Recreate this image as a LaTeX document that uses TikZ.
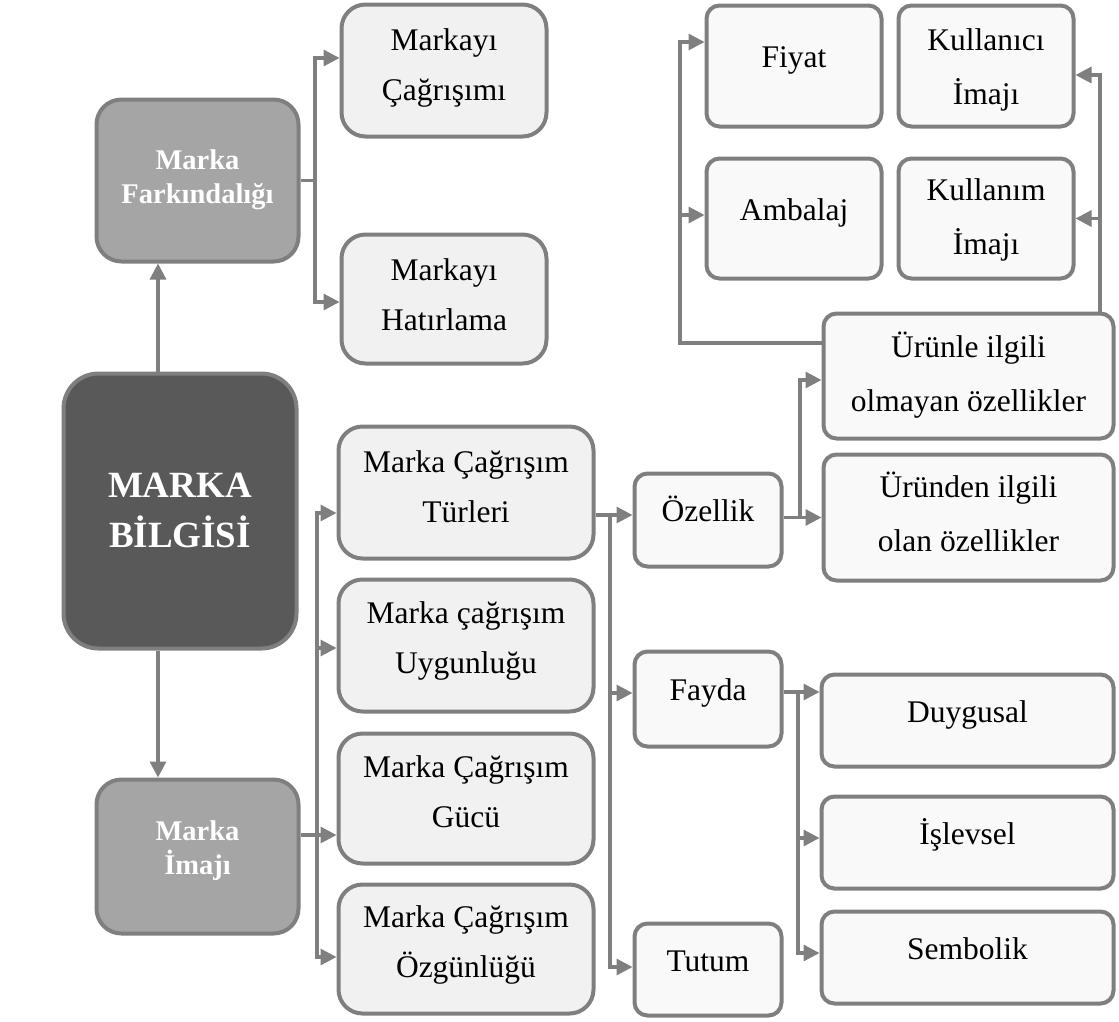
\documentclass[tikz,border=0pt]{standalone}
\usepackage{fontspec}
\setmainfont{Liberation Serif}
\usetikzlibrary{arrows.meta}
\definecolor{bordc}{HTML}{7F7F7F}
\definecolor{lineC}{HTML}{7F7F7F}
\definecolor{lightA}{HTML}{F9F9F9}
\definecolor{lightB}{HTML}{F1F1F1}
\definecolor{midg}{HTML}{A5A5A5}
\definecolor{darkg}{HTML}{595959}
\newcommand\twoline[2]{\vtop{\halign{\hfil##\hfil\cr #1\cr #2\cr}}}
\begin{document}
\begin{tikzpicture}[x=1pt,y=-1pt,
  base/.style={draw=bordc, line width=4pt, inner sep=0pt},
  sbox/.style={base, rounded corners=13pt, fill=lightA, font=\fontsize{31.5}{54}\selectfont},
  mbox/.style={base, rounded corners=24pt, fill=lightB, font=\fontsize{31.5}{50}\selectfont},
  gbox/.style={base, rounded corners=25pt, fill=midg, text=white, font=\bfseries\fontsize{28.5}{34}\selectfont},
  dbox/.style={base, rounded corners=35pt, fill=darkg, text=white, font=\bfseries\fontsize{37}{50}\selectfont},
  one/.style={text height=21pt, text depth=18pt},
  ml/.style={text height=10pt, text depth=#1},
  arr/.style={draw=lineC, line width=3.2pt, -{Triangle[length=16pt,width=16pt]}},
  arrtwo/.style={draw=lineC, line width=3.2pt, {Triangle[length=16pt,width=16pt]}-{Triangle[length=16pt,width=16pt]}}
]
\useasboundingbox (0,0) rectangle (1119,1021);

% left column
\node[gbox, ml=33pt, minimum width=202pt, minimum height=162pt] (farkind) at (197.5,180.5) {\twoline{Marka}{Farkındalığı}};
\node[dbox, ml=38pt, minimum width=233pt, minimum height=275pt] (bilgi) at (180,511) {\twoline{MARKA}{BİLGİSİ}};
\node[gbox, ml=43pt, minimum width=202pt, minimum height=154pt] (imaj) at (197.5,856.5) {\twoline{Marka}{İmajı}};

% second column
\node[mbox, ml=51pt, minimum width=205pt, minimum height=132pt] (cagr) at (444,70.5) {\twoline{Markayı}{Çağrışımı}};
\node[mbox, ml=48pt, minimum width=205pt, minimum height=129pt] (hatir) at (444,299) {\twoline{Markayı}{Hatırlama}};
\node[mbox, ml=51pt, minimum width=255pt, minimum height=132pt] (turler) at (466,492.5) {\twoline{Marka Çağrışım}{Türleri}};
\node[mbox, ml=55pt, minimum width=255pt, minimum height=132pt] (uygun) at (466,645.5) {\twoline{Marka çağrışım}{Uygunluğu}};
\node[mbox, ml=53pt, minimum width=255pt, minimum height=130pt] (guc) at (466,798.5) {\twoline{Marka Çağrışım}{Gücü}};
\node[mbox, ml=54pt, minimum width=255pt, minimum height=129pt] (ozgun) at (466,949) {\twoline{Marka Çağrışım}{Özgünlüğü}};

% third column
\node[sbox, one, minimum width=147pt, minimum height=93pt] (ozellik) at (708,520) {Özellik};
\node[sbox, one, minimum width=147pt, minimum height=95pt] (fayda) at (708,699) {Fayda};
\node[sbox, one, minimum width=147pt, minimum height=92pt] (tutum) at (708,969.5) {Tutum};

% top right
\node[sbox, one, minimum width=175pt, minimum height=121pt] (fiyat) at (794,66) {Fiyat};
\node[sbox, one, minimum width=175pt, minimum height=120pt] (ambalaj) at (794,218.5) {Ambalaj};
\node[sbox, ml=42pt, minimum width=175pt, minimum height=121pt] (kullanici) at (986,66) {\twoline{Kullanıcı}{İmajı}};
\node[sbox, ml=47pt, minimum width=175pt, minimum height=120pt] (kullanim) at (986,218.5) {\twoline{Kullanım}{İmajı}};
\node[sbox, ml=48pt, minimum width=290pt, minimum height=125pt] (urunle) at (968.5,376) {\twoline{Ürünle ilgili}{olmayan özellikler}};
\node[sbox, ml=51pt, minimum width=290pt, minimum height=126pt] (urunden) at (968.5,517.5) {\twoline{Üründen ilgili}{olan özellikler}};

% bottom right
\node[sbox, one, minimum width=292pt, minimum height=92pt] (duygusal) at (967.5,720.5) {Duygusal};
\node[sbox, one, minimum width=292pt, minimum height=92pt] (islevsel) at (967.5,842.5) {İşlevsel};
\node[sbox, one, minimum width=292pt, minimum height=92pt] (sembolik) at (967.5,957.5) {Sembolik};

% spine coordinates
\coordinate (sp1) at (315,0);
\coordinate (sp2) at (317,0);
\coordinate (sp3) at (610,0);
\coordinate (sp4) at (800,0);
\coordinate (sp5) at (680,0);
\coordinate (sp6) at (798,0);

% arrow targets
\coordinate (cagrA) at ([yshift=12.5pt]cagr.west);
\coordinate (hatirA) at ([yshift=-3pt]hatir.west);
\coordinate (turA) at ([yshift=-20.5pt]turler.west);
\coordinate (uygA) at ([yshift=-2.5pt]uygun.west);
\coordinate (gucA) at ([yshift=-36.5pt]guc.west);
\coordinate (ozgA) at ([yshift=-8pt]ozgun.west);
\coordinate (ozA) at ([yshift=5pt]ozellik.west);
\coordinate (faA) at ([yshift=6pt]fayda.west);
\coordinate (tuA) at ([yshift=2.5pt]tutum.west);
\coordinate (ulA) at ([yshift=-4pt]urunle.west);
\coordinate (udA) at (urunden.west);
\coordinate (fiA) at ([yshift=24pt]fiyat.west);
\coordinate (amA) at ([yshift=3.5pt]ambalaj.west);
\coordinate (kuA) at ([yshift=-9pt]kullanici.east);
\coordinate (kmA) at (kullanim.east);
\coordinate (duA) at ([yshift=28.5pt]duygusal.west);
\coordinate (isA) at ([yshift=4.5pt]islevsel.west);
\coordinate (seA) at ([yshift=4.5pt]sembolik.west);

% sources
\coordinate (bxn) at ([xshift=-22pt]bilgi.north);
\coordinate (bxs) at ([xshift=-22pt]bilgi.south);
\coordinate (imS) at ([yshift=21.5pt]imaj.east);
\coordinate (ulS) at ([yshift=33pt]urunle.west);
\coordinate (kx) at ([xshift=131.5pt]urunle.north);

% connectors
\draw[arr] (bxn) -- (bxn |- farkind.south);
\draw[arr] (bxs) -- (bxs |- imaj.north);

\draw[arr] (farkind.east) -| (sp1 |- cagrA) -- (cagrA);
\draw[arr] (sp1 |- farkind.east) |- (hatirA);

\draw[arrtwo] (turA) -| (sp2 |- ozgA) -- (ozgA);
\draw[arr] (sp2 |- uygA) -- (uygA);
\draw[arr] (imS) -- (gucA);

\draw[arr] (turler.east |- ozA) -- (ozA);
\draw[arr] (sp3 |- ozA) |- (tuA);
\draw[arr] (sp3 |- faA) -- (faA);

\draw[arr] (ozellik.east |- udA) -- (udA);
\draw[arr] (sp4 |- udA) |- (ulA);

\draw[arr] (ulS) -| (sp5 |- fiA) -- (fiA);
\draw[arr] (sp5 |- amA) -- (amA);

\draw[arr] (kx) |- (kuA);
\draw[arr] (kx |- kmA) -- (kmA);

\draw[arr] (fayda.east |- duA) -- (duA);
\draw[arr] (sp6 |- duA) |- (seA);
\draw[arr] (sp6 |- isA) -- (isA);
\end{tikzpicture}
\end{document}
